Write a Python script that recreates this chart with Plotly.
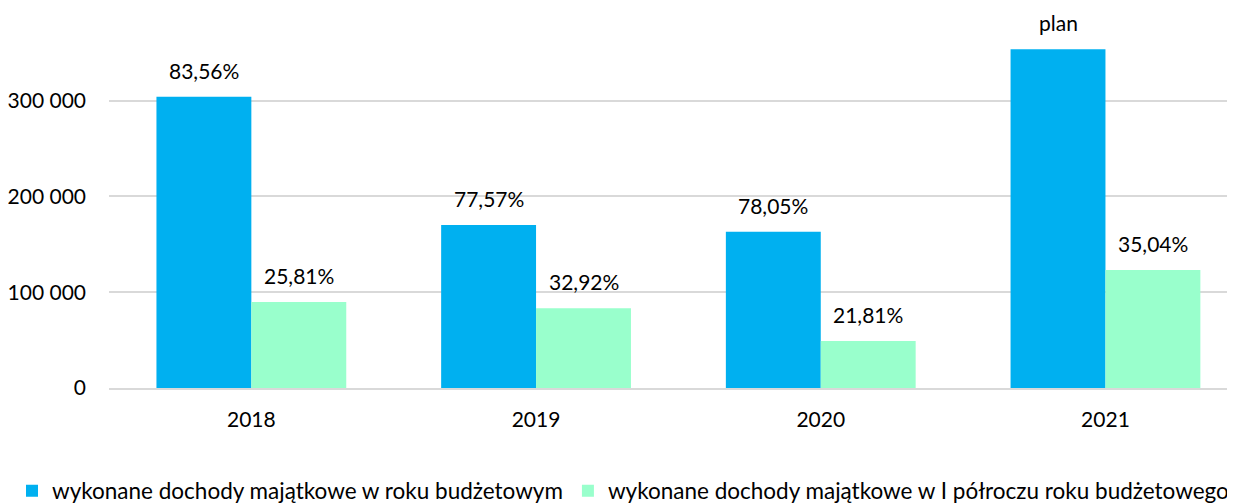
import plotly.graph_objects as go

years = ["2018", "2019", "2020", "2021"]
roczne = [304100, 170100, 163200, 353500]
polrocze = [89800, 83200, 49100, 123200]
roczne_labels = ["83,56%", "77,57%", "78,05%", "plan"]
polrocze_labels = ["25,81%", "32,92%", "21,81%", "35,04%"]
tick_vals = [0, 100000, 200000, 300000]
tick_text = ["0", "100 000", "200 000", "300 000"]

FONT = "Lato"
FS = 21
BLUE = "#00B0F0"
GREEN = "#99FFCC"

fig = go.Figure()
fig.add_trace(go.Bar(x=years, y=roczne, name="wykonane dochody majątkowe w roku budżetowym",
                     marker=dict(color=BLUE, line=dict(width=0))))
fig.add_trace(go.Bar(x=years, y=polrocze, name="wykonane dochody majątkowe w I półroczu roku budżetowego",
                     marker=dict(color=GREEN, line=dict(width=0))))

# page body has an 8px margin, so the figure is drawn 8px right/down
W = 1227
H = 496
ml, mr, mt, mb = 101, 0, 0, 116
plot_w = W - ml - mr
plot_h = H - mt - mb
x_range = [-0.5, 3.455]
px_per_cat = plot_w / (x_range[1] - x_range[0])
half = px_per_cat / 6.0

ann = []
for i, (v, t) in enumerate(zip(roczne, roczne_labels)):
    ann.append(dict(x=i, y=v, text=t, xref="x", yref="y", showarrow=False,
                    xshift=-half, yshift=12, yanchor="bottom",
                    font=dict(family=FONT, size=FS, color="#000000")))
for i, (v, t) in enumerate(zip(polrocze, polrocze_labels)):
    ann.append(dict(x=i, y=v, text=t, xref="x", yref="y", showarrow=False,
                    xshift=half, yshift=12, yanchor="bottom",
                    font=dict(family=FONT, size=FS, color="#000000")))

fig.update_layout(
    width=W, height=H,
    margin=dict(l=ml, r=mr, t=mt, b=mb, pad=0, autoexpand=False),
    paper_bgcolor="white", plot_bgcolor="white",
    barmode="group", bargap=1/3, bargroupgap=0,
    font=dict(family=FONT, size=FS, color="#000000"),
    annotations=ann,
    legend=dict(orientation="h", x=(4 - ml) / plot_w, xanchor="left",
                y=-103 / plot_h, yanchor="middle",
                font=dict(family=FONT, size=22.5, color="#000000"),
                itemwidth=30, tracegroupgap=0),
    xaxis=dict(type="category", range=x_range, showgrid=False, ticks="", showline=True,
               linecolor="#D9D9D9", linewidth=1.5, ticklabelstandoff=12,
               tickfont=dict(family=FONT, size=FS)),
    yaxis=dict(range=[0, 396660], tickvals=tick_vals, ticktext=tick_text,
               showgrid=True, gridcolor="#D9D9D9", gridwidth=1.5, zeroline=False,
               ticks="", ticklabelstandoff=22, tickfont=dict(family=FONT, size=FS)),
)

fig.write_html("out.html")
